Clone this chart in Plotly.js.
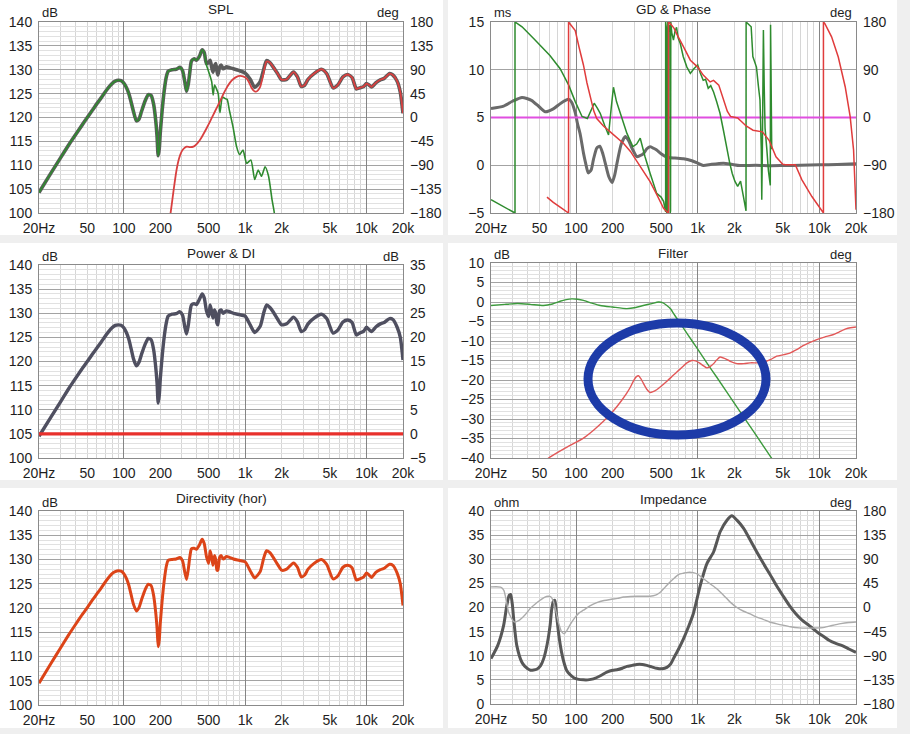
<!DOCTYPE html>
<html><head><meta charset="utf-8">
<script src="https://cdn.plot.ly/plotly-3.0.1.min.js"></script>
<style>html,body{margin:0;padding:0;background:#efefef;}#chart{width:910px;height:734px;}</style>
</head><body><div id="chart"></div>
<script>
// ---------- tick labels ----------
const xTickVals = [20, 50, 100, 200, 500, 1000, 2000, 5000, 10000, 20000];
const xTickText = ['20Hz', '50', '100', '200', '500', '1k', '2k', '5k', '10k', '20k'];
const xLightGridVals = [30, 40, 50, 60, 70, 80, 90, 200, 300, 400, 500, 600, 700, 800, 900, 2000, 3000, 4000, 5000, 6000, 7000, 8000, 9000];
const decadeVals = [100, 1000, 10000];

// ---------- SPL / Power / Directivity (shared frequency grid) ----------
const respFreq = [20,25,30,35,40,45,50,55,60,65,70,75,80,85,90,95,100,105,110,115,120,127,133,140,150,159,168,176,183,188,192,196,200,207,215,224,232,250,270,290,305,318,329,340,350,361,380,397,420,442,460,480,500,515,530,543,558,572,585,596,615,634,660,700,750,800,900,1000,1100,1200,1330,1420,1500,1600,1700,1850,2000,2200,2500,2700,2900,3100,3300,3700,4250,4700,5300,5800,6400,7000,7600,8250,8800,9500,10000,10500,11000,12000,13000,14000,15500,16500,17900,19000,20000];
const splSum = [104.3,108.3,111.5,114.2,116.4,118.3,120.0,121.5,122.9,124.1,125.3,126.3,127.1,127.6,127.8,127.7,127.2,126.3,125.0,123.2,121.3,119.3,119.6,121.3,123.5,124.8,124.6,122.8,119.5,116.0,112.0,113.5,117.0,121.5,125.5,128.5,129.7,130.0,130.1,130.5,129.8,127.5,125.5,127.0,129.5,131.8,132.3,132.0,132.8,134.2,133.6,131.3,131.5,132.0,130.5,129.5,130.8,131.3,129.8,128.9,130.5,131.0,130.2,130.6,130.4,130.2,129.8,129.3,128.0,126.3,127.5,130.0,131.9,131.5,130.6,129.2,127.9,128.0,129.5,128.5,126.5,126.8,128.0,129.2,130.1,129.2,126.2,126.8,128.5,129.0,128.4,126.0,126.2,126.5,127.1,126.8,126.4,127.3,127.9,128.2,129.2,128.9,127.6,125.3,120.9];
const powerDb = [104.5,108.4,111.6,114.3,116.5,118.4,120.0,121.5,122.8,124.0,125.2,126.2,127.0,127.5,127.6,127.5,127.0,126.0,124.6,122.6,120.6,119.1,119.8,121.5,123.6,124.8,124.5,122.5,119.0,115.5,111.4,113.0,116.5,121.0,125.0,128.0,129.4,129.8,129.9,130.3,129.6,127.2,125.7,127.5,130.0,131.7,132.0,131.8,132.9,134.0,133.2,130.5,129.3,131.7,130.3,129.0,130.7,130.0,128.0,127.6,130.5,130.7,130.0,130.5,130.3,130.0,129.7,129.4,127.6,126.0,127.3,130.0,131.7,131.2,130.3,128.8,127.6,127.8,129.2,128.2,126.2,126.6,127.8,129.0,129.8,128.9,125.9,126.5,128.2,128.6,128.1,125.5,125.9,126.3,127.1,126.6,126.2,127.2,127.8,128.1,128.9,128.7,127.1,125.0,120.3];
const dirDb = [104.5,108.5,111.7,114.4,116.6,118.5,120.1,121.6,122.9,124.1,125.3,126.3,127.1,127.5,127.7,127.6,127.1,126.1,124.7,122.7,120.8,119.4,120.0,121.7,123.8,124.9,124.6,122.6,119.2,115.8,112.0,113.4,117.0,121.5,125.5,128.6,129.8,130.0,130.1,130.4,129.7,127.4,125.9,128.0,130.5,132.2,132.3,132.1,133.0,134.2,133.3,130.6,129.2,131.8,130.5,128.8,130.8,130.0,127.8,127.8,130.4,130.8,130.1,130.6,130.4,130.1,129.8,129.5,127.7,126.2,127.5,130.2,131.8,131.4,130.5,129.0,127.8,128.0,129.3,128.4,126.4,126.8,128.0,129.2,130.0,129.0,126.0,126.6,128.4,128.8,128.3,125.8,126.0,126.4,127.2,126.8,126.3,127.4,127.9,128.2,129.0,128.8,127.2,125.0,120.5];

const wooferFreq = [20,25,30,35,40,45,50,55,60,65,70,75,80,85,90,95,100,105,110,115,120,127,133,140,150,159,168,176,183,188,192,196,200,207,215,224,232,250,270,290,305,318,329,340,350,361,380,397,420,442,460,480,500,530,545,560,580,600,620,650,680,710,740,795,850,900,960,1030,1115,1200,1280,1365,1460,1560,1665,1740,1790];
const wooferSpl = [104.3,108.3,111.5,114.2,116.4,118.3,120.0,121.5,122.9,124.1,125.3,126.3,127.1,127.6,127.8,127.7,127.2,126.3,125.0,123.2,121.3,119.3,119.6,121.3,123.5,124.8,124.6,122.8,119.5,116.0,112.0,113.5,117.0,121.5,125.5,128.5,129.7,130.0,130.1,130.5,129.8,127.5,125.5,127.0,129.5,131.8,132.3,132.0,132.8,134.2,133.6,131.0,129.6,127.5,124.7,126.8,126.0,125.0,121.0,124.3,124.0,123.8,121.6,118.0,113.9,112.2,113.2,110.4,111.1,107.0,109.0,107.7,109.7,107.7,102.8,100.0,96.0];
const tweeterFreq = [230,243,258,272,286,300,315,330,352,375,400,424,450,480,512,545,580,618,658,700,745,795,850,903,960,1025,1070,1120,1170,1220,1275,1330,1420,1500,1600,1700,1850,2000,2200,2500,2700,2900,3100,3300,3700,4250,4700,5300,5800,6400,7000,7600,8250,8800,9500,10000,10500,11000,12000,13000,14000,15500,16500,17900,19000,20000];
const tweeterSpl = [96,100,105,109,111.5,112.9,113.6,113.9,113.8,113.9,114.5,115.3,116.4,117.7,119.1,120.5,121.9,123.3,124.8,126.1,127.2,128.0,128.5,128.7,128.6,128.2,127.5,126.4,125.7,125.4,125.7,126.4,129.3,131.7,131.5,130.6,129.2,127.9,128.0,129.5,128.5,126.5,126.8,128.0,129.2,130.1,129.2,126.2,126.8,128.5,129.0,128.4,126.0,126.2,126.5,127.1,126.8,126.4,127.3,127.9,128.2,129.2,128.9,127.6,125.3,120.9];

const diFreq = [20, 20000];
const diDb = [0, 0];

// ---------- GD & Phase ----------
const gdFreq = [20,25.4,30,36,43,50,55.9,65,75,86.8,92,98.5,103,108,115,120,126,133,139,148,157,166,174,186,198,208,217,235,254,270,288,316,335,357,380,406,430,460,500,558,650,766,880,1000,1110,1300,1630,1900,2220,3000,4000,5100,7000,10000,14000,20000];
const gdMs = [5.95,6.2,6.7,7.1,6.8,6.1,5.6,5.9,6.5,6.9,6.6,5.5,4.3,3.3,1.3,0.2,-0.8,-0.5,0.6,1.8,2.0,1.2,0.2,-1.2,-1.8,-1.0,0.2,2.2,3.0,2.6,1.8,0.9,1.0,1.2,1.7,1.95,1.8,1.6,1.2,0.84,0.75,0.67,0.5,0.22,-0.03,0.1,0.22,0.1,-0.03,0.0,-0.05,-0.03,0.0,0.05,0.08,0.15];
const gdRefFreq = [20, 20000];
const gdRefMs = [5, 5];
const wooferPhFreq = [20,25,31.5,31.5,36,44.8,52,61,74,87,98.5,112,124,132,141,150,158,172,185,195,203,215,230,262,293,315,337,350,369,406,460,500,524,545,545,552,556,562,568,568,580,590,594,598,601,612,632,650,670,690,720,760,815,870,930,1000,1050,1110,1160,1220,1280,1350,1430,1525,1630,1740,1830,1920,2020,2130,2250,2380,2495,2500,2600,2750,2840,3040,3150,3250,3330,3361,3400,3467,3520,3577,3700,3811,3950,3970,4000,4059];
const wooferPhDeg = [-155,-167,-180,180,171,149,134,117,92,61,30,2,-2,12,27,17,8,-15,-33,20,57,30,8,-30,-55,-50,-39,-55,-74,-105,-143,-150,-158,-178,180,170,-180,-170,-180,180,162,175,-180,-176,180,160,146,162,170,150,139,115,95,83,92,99,84,70,72,55,60,48,30,8,-25,-61,-85,-105,-120,-130,-120,-150,-176,180,176,171,115,95,60,33,-60,-155,-60,165,60,-20,-60,-100,-128,175,100,-60];
const tweeterPhFreq = [57.7,65,75,86.8,86.8,92,98.5,106,115,123,131,140,148,168,191,215,246,280,316,360,406,460,524,560,575,575,595,640,670,765,870,1000,1110,1265,1350,1490,1630,1750,1860,2000,2130,2300,2500,2850,3100,3400,3860,4400,5000,5260,6340,7170,8680,10500,10800,10800,11100,12600,14300,16300,17900,19100,20000];
const tweeterPhDeg = [-150,-160,-170,-180,180,172,164,132,99,65,36,12,-2,-16,-27,-37,-49,-64,-83,-102,-121,-145,-171,-178,-180,180,177,168,158,133,108,95,80,67,70,61,32,12,2,1,-1,-8,-16,-24,-25,-27,-43,-74,-88,-89,-89,-117,-149,-174,-180,180,177,152,114,58,2,-61,-174];

// ---------- Filter ----------
const fltWooferFreq = [20,26,33,42,54,64,74,83,92,103,115,135,158,200,262,310,357,420,475,520,558,600,632,670,764,900,1000,1188,1435,2095,3057,4058,4400];
const fltWooferDb = [-0.9,-0.6,-0.4,-0.6,-0.9,-0.5,0.2,0.6,0.8,0.7,0.4,-0.3,-0.9,-1.3,-1.7,-1.4,-0.9,-0.4,0.0,-0.2,-0.9,-1.8,-2.9,-4.1,-6.7,-10.0,-12.1,-15.6,-19.3,-26.9,-34.4,-40.1,-41.7];
const fltTweeterFreq = [55,59.5,80,115,140,168,195,217,240,262,280,296,312,326,340,357,380,406,430,460,500,558,610,670,740,815,895,960,1030,1110,1190,1270,1350,1430,1525,1680,1850,2100,2400,2700,3100,3470,3950,4460,5100,5720,6500,7350,8300,9400,11000,12900,14500,16500,18000,20000];
const fltTweeterDb = [-41,-40,-37.6,-34.9,-32.8,-30.6,-28.5,-26.8,-25.0,-23.3,-21.8,-20.3,-19.2,-18.9,-19.6,-20.8,-22.3,-23.2,-23.0,-22.5,-21.6,-20.3,-19.2,-18.0,-16.8,-15.6,-15.0,-15.1,-15.6,-16.3,-16.9,-16.5,-15.8,-14.9,-14.1,-14.5,-15.2,-15.8,-15.8,-15.6,-15.6,-15.5,-14.8,-13.9,-13.5,-13.1,-12.2,-11.2,-10.4,-9.7,-9.0,-8.4,-7.7,-6.9,-6.6,-6.4];

// ---------- Impedance ----------
const zFreq = [20,22.7,25.4,27,28.2,29,30,30.7,32.6,35.8,38,42.2,47.5,51,54.2,58,61.2,63,65,67,69,72,76,80,84,90,95,105,115,125,139,160,179,200,217,240,262,290,316,350,381,420,460,510,558,600,632,700,764,840,920,1050,1190,1350,1530,1740,1910,2100,2385,2700,3060,3450,3900,4400,5000,5600,6400,7200,8200,9000,9950,11000,12000,13500,15400,17500,20000];
const zOhm = [9.4,12.1,16.3,20.5,22.5,22.7,20.5,17.7,12.1,8.7,7.8,7.0,7.2,7.9,9.4,12.5,16.3,19.5,21.3,21.5,18.7,14.5,10.75,8.4,6.9,6.0,5.5,5.1,5.0,5.0,5.2,5.9,6.6,7.0,7.1,7.4,7.8,8.0,8.2,8.2,8.0,7.7,7.4,7.3,7.6,8.3,9.4,11.5,13.5,16.0,18.7,24.6,29.1,31.5,35.7,38.1,39.0,38.1,36.4,34.0,31.5,29.2,27.0,24.7,22.5,20.6,18.7,17.4,16.3,15.5,14.6,13.9,13.2,12.6,12.1,11.4,10.7];
const zPhFreq = [20,24,25.5,26.5,28,31,34,38,42,47,51,55,59,62,65,68,71.5,76,80,84,90,98.5,106,115,130,148,170,191,220,245,280,316,360,406,450,495,540,595,650,700,764,830,920,1000,1110,1250,1435,1630,1850,2100,2385,2700,3060,3450,3900,4400,5000,5800,6820,8000,9300,11000,12700,15000,17500,20000];
const zPhDeg = [38.4,38,32,16.6,-10,-27,-24,-14,-2,8,14,19,21,20,12,-5,-27,-45,-49,-43,-31,-18,-10,-5,3,9,13,15,17,19.5,20.5,21,21,21,23,29,38,48,56,62,64,65.5,65,62,54,45,35,23,10,0,-7,-12,-18,-22,-27,-30,-33,-36,-38,-38.5,-38.3,-37,-33.5,-30,-28,-27];

// ---------- layout helpers ----------
const W = 910, H = 734;
const px = x => x / W, py = y => 1 - y / H;
const FONT = 'Liberation Sans, Arial, sans-serif';
const TXT = '#1e1e1e';
const panels = [
  {n:1, plot:[39,403,22,213], card:[0,443,0,235], title:'SPL', ty:10, yl:[100,140,5,1], yr:[-180,180,45], ul:'dB', ur:'deg'},
  {n:2, plot:[491,856,22,213], card:[448,897,0,235], title:'GD & Phase', ty:9, yl:[-5,15,5,0], yr:[-180,180,90], ul:'ms', ur:'deg'},
  {n:3, plot:[39,403,265,458], card:[0,443,243,480], title:'Power & DI', ty:253, yl:[100,140,5,1], yr:[-5,35,5], ul:'dB', ur:'dB'},
  {n:4, plot:[491,856,263,458], card:[448,897,243,480], title:'Filter', ty:253, yl:[-40,10,5,1], yr:[-180,180,36], ul:'dB', ur:'deg'},
  {n:5, plot:[39,403,511,705], card:[0,443,488,728], title:'Directivity (hor)', ty:498, yl:[100,140,5,1], yr:null, ul:'dB', ur:null},
  {n:6, plot:[491,856,511,704], card:[448,897,488,728], title:'Impedance', ty:499, yl:[0,40,5,1], yr:[-180,180,45], ul:'ohm', ur:'deg'}
];
const sfx = n => (n === 1 ? '' : String(n));

const layout = {
  width: W, height: H, margin: {l:0, r:0, t:0, b:0},
  paper_bgcolor: '#efefef', plot_bgcolor: '#ffffff',
  showlegend: false, hovermode: false,
  font: {family: FONT, size: 14, color: TXT},
  shapes: [], annotations: []
};
const gridTraces = [];

panels.forEach(p => {
  const s = sfx(p.n);
  const [x0, x1, y0, y1] = p.plot;
  const xr = [Math.log10(20), Math.log10(20000)];
  layout['xaxis' + s] = {
    type: 'log', range: xr,
    domain: [px(x0), px(x1)], anchor: 'y' + s,
    tickmode: 'array', tickvals: xTickVals, ticktext: xTickText,
    showgrid: false,
    minor: {tickmode: 'array', tickvals: xLightGridVals, showgrid: true, gridcolor: '#d6d6d6', gridwidth: 1, ticks: ''},
    ticks: '', showline: true, mirror: true, linecolor: '#8a8a8a', linewidth: 1,
    zeroline: false, tickfont: {size: 14, color: TXT}, ticklabelstandoff: 2, fixedrange: true
  };
  // overlaid frequency axis that only carries the darker decade grid lines
  layout['xaxis' + (6 + p.n)] = {
    type: 'log', range: xr, overlaying: 'x' + s, anchor: 'y' + s, side: 'bottom',
    tickmode: 'array', tickvals: decadeVals, showticklabels: false, ticks: '',
    showgrid: true, gridcolor: '#858585', gridwidth: 1, showline: false, zeroline: false, fixedrange: true
  };
  gridTraces.push({type:'scatter', mode:'lines', x: [], y: [], xaxis: 'x' + (6 + p.n), yaxis: 'y' + s, hoverinfo:'skip'});
  const yl = p.yl;
  layout['yaxis' + s] = {
    range: [yl[0], yl[1]], domain: [py(y1), py(y0)], anchor: 'x' + s,
    tickmode: 'linear', tick0: yl[0], dtick: yl[2],
    showgrid: true, gridcolor: '#a3a3a3', gridwidth: 1,
    minor: yl[3] ? {dtick: yl[3], showgrid: true, gridcolor: '#e1e1e1', gridwidth: 1, ticks: ''} : {showgrid: false},
    ticks: '', showline: true, mirror: true, linecolor: '#8a8a8a', linewidth: 1,
    zeroline: false, tickfont: {size: 14, color: TXT}, ticklabelstandoff: 3, fixedrange: true
  };
  if (p.yr) {
    layout['yaxis' + (6 + p.n)] = {
      range: [p.yr[0], p.yr[1]], overlaying: 'y' + s, side: 'right', anchor: 'x' + s,
      tickmode: 'linear', tick0: p.yr[0], dtick: p.yr[2],
      showgrid: false, zeroline: false, ticks: '', showline: false,
      tickfont: {size: 14, color: TXT}, ticklabelstandoff: 6, fixedrange: true
    };
  }
  // white card
  layout.shapes.push({type:'rect', xref:'paper', yref:'paper', layer:'below',
    x0: px(p.card[0]), x1: px(p.card[1]), y0: py(p.card[3]), y1: py(p.card[2]),
    fillcolor:'#ffffff', line:{width:0}});
  // title and unit labels
  layout.annotations.push({xref:'paper', yref:'paper', x: px((x0 + x1) / 2), y: py(p.ty), text: p.title,
    showarrow:false, xanchor:'center', yanchor:'middle', font:{size:13.5, color:TXT}});
  layout.annotations.push({xref:'paper', yref:'paper', x: px(x0 + 1), y: py(y0 - 9), text: p.ul,
    showarrow:false, xanchor:'left', yanchor:'middle', font:{size:13, color:TXT}});
  if (p.ur) layout.annotations.push({xref:'paper', yref:'paper', x: px(x1 - 2), y: py(y0 - 9), text: p.ur,
    showarrow:false, xanchor:'right', yanchor:'middle', font:{size:13, color:TXT}});
});

// highlight ellipse drawn over the filter panel
layout.shapes.push({type:'circle', xref:'paper', yref:'paper', layer:'above',
  x0: px(588), x1: px(766), y0: py(435), y1: py(323),
  line:{color:'#1d3ba8', width:9}, fillcolor:'rgba(0,0,0,0)'});

const ln = (x, y, xa, ya, color, width, shape) => ({
  type:'scatter', mode:'lines', x, y, xaxis: xa, yaxis: ya,
  line:{color, width, shape: shape || 'spline', smoothing: 0.6}, hoverinfo:'skip', cliponaxis: true
});

const traces = gridTraces.concat([
  // SPL (the phase axis on the right carries no curve in the reference)
  {type:'scatter', mode:'lines', x: [], y: [], xaxis:'x', yaxis:'y7', hoverinfo:'skip'},
  ln(respFreq, splSum, 'x', 'y', '#5b5b5b', 3.6),
  ln(wooferFreq, wooferSpl, 'x', 'y', '#2f8a2f', 1.6),
  ln(tweeterFreq, tweeterSpl, 'x', 'y', '#d84040', 1.8),
  // GD & Phase
  ln(gdFreq, gdMs, 'x2', 'y2', '#6a6a6a', 3),
  ln(gdRefFreq, gdRefMs, 'x2', 'y2', '#e04fe0', 2, 'linear'),
  ln(wooferPhFreq, wooferPhDeg, 'x2', 'y8', '#2e8b2e', 1.5, 'linear'),
  ln(tweeterPhFreq, tweeterPhDeg, 'x2', 'y8', '#e03c3c', 1.5, 'linear'),
  // Power & DI
  ln(respFreq, powerDb, 'x3', 'y3', '#4f4f60', 3.4),
  ln(diFreq, diDb, 'x3', 'y9', '#e8302c', 3.4, 'linear'),
  // Filter
  ln(fltWooferFreq, fltWooferDb, 'x4', 'y4', '#3c9a3c', 1.4),
  ln(fltTweeterFreq, fltTweeterDb, 'x4', 'y4', '#e25858', 1.4),
  // Directivity
  ln(respFreq, dirDb, 'x5', 'y5', '#dc4418', 3),
  // Impedance
  ln(zPhFreq, zPhDeg, 'x6', 'y12', '#ababab', 1.4),
  ln(zFreq, zOhm, 'x6', 'y6', '#575757', 3)
]);

Plotly.newPlot('chart', traces, layout, {staticPlot: true, displayModeBar: false});
</script></body></html>
